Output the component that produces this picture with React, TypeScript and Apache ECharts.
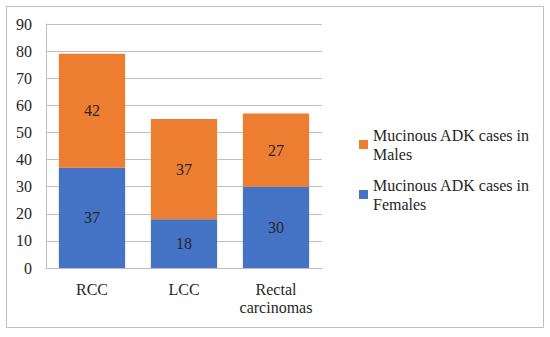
import React, { useEffect, useRef } from "react";
import * as echarts from "echarts";

const categories = ["RCC", "LCC", "Rectal\ncarcinomas"];
const females = [37, 18, 30];
const males = [42, 37, 27];
const maleName = "Mucinous ADK cases in Males";
const femaleName = "Mucinous ADK cases in Females";
const yTicks = { min: 0, max: 90, interval: 10 };

const FONT = "Liberation Serif";
const FS = 16;

export default function App() {
  const ref = useRef<HTMLDivElement>(null);
  useEffect(() => {
    if (!ref.current) return;
    const chart = echarts.init(ref.current, undefined, { renderer: "svg" });
    chart.setOption({
      animation: false,
      backgroundColor: "#fff",
      textStyle: { fontFamily: FONT },
      graphic: [
        {
          type: "rect",
          shape: { x: 6.5, y: 6.5, width: 537, height: 321 },
          style: { fill: "none", stroke: "#BFBFBF", lineWidth: 1 },
          silent: true,
        },
      ],
      grid: { left: 46, right: 228, top: 24, bottom: 69, containLabel: false },
      legend: {
        orient: "vertical",
        left: 354,
        top: 111,
        data: [maleName, femaleName],
        itemWidth: 9,
        itemHeight: 9,
        itemGap: -7,
        icon: "rect",
        formatter: (n: string) => n.replace(" in ", " in\n"),
        textStyle: {
          fontFamily: FONT,
          fontSize: FS,
          color: "#262626",
          lineHeight: 19,
          padding: [19, 0, 0, 0],
        },
      },
      xAxis: {
        type: "category",
        data: categories,
        axisTick: { show: false },
        axisLine: { lineStyle: { color: "#BFBFBF" } },
        axisLabel: { interval: 0, fontFamily: FONT, fontSize: FS, color: "#262626", margin: 12, lineHeight: 18 },
      },
      yAxis: {
        type: "value",
        min: yTicks.min,
        max: yTicks.max,
        interval: yTicks.interval,
        axisLine: { show: true, lineStyle: { color: "#BFBFBF" } },
        axisTick: { show: false },
        splitLine: { lineStyle: { color: "#BFBFBF" } },
        axisLabel: { fontFamily: FONT, fontSize: FS, color: "#262626", margin: 14 },
      },
      series: [
        {
          name: femaleName,
          type: "bar",
          stack: "a",
          data: females,
          barWidth: "72%",
          itemStyle: { color: "#4472C4" },
          label: { show: true, position: "inside", fontFamily: FONT, fontSize: FS, color: "#262626" },
        },
        {
          name: maleName,
          type: "bar",
          stack: "a",
          data: males,
          itemStyle: { color: "#ED7D31" },
          label: { show: true, position: "inside", fontFamily: FONT, fontSize: FS, color: "#262626" },
        },
      ],
    });
    return () => chart.dispose();
  }, []);
  return (
    <div
      ref={ref}
      style={{ position: "fixed", left: 0, top: 0, width: 550, height: 337, background: "#fff" }}
    />
  );
}
